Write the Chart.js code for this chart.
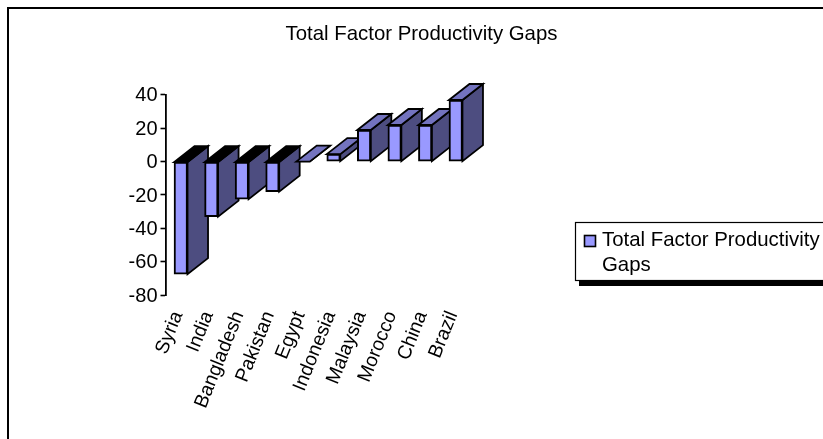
<!DOCTYPE html>
<html lang="en">
<head>
  <meta charset="UTF-8" />
  <title>Total Factor Productivity Gaps</title>
  <script src="https://cdn.jsdelivr.net/npm/chart.js"></script>
  <style>
    html, body { margin: 0; padding: 0; background: #fff; overflow: hidden; }
    .wrap { position: relative; width: 823px; height: 439px; }
    canvas { display: block; }
  </style>
</head>
<body>
  <div class="wrap"><canvas id="gapChart" width="823" height="439"></canvas></div>

  <script>
    const chartTitle = 'Total Factor Productivity Gaps';
    const countries = ['Syria', 'India', 'Bangladesh', 'Pakistan', 'Egypt', 'Indonesia', 'Malaysia', 'Morocco', 'China', 'Brazil'];
    const gaps = [-67.5, -33, -22.5, -18, 0, 4.5, 19, 22, 22, 37];
    const legendLines = ['Total Factor Productivity', 'Gaps'];

    const frontColor = '#9999ff';
    const sideColor = '#4d4d80';
    const topColor = '#7373bf';
    const depthX = 20.5;
    const depthY = 16;
    const fontName = '"Liberation Sans", Arial, sans-serif';

    function face(ctx, pts, fill) {
      ctx.beginPath();
      ctx.moveTo(pts[0][0], pts[0][1]);
      pts.slice(1).forEach(p => ctx.lineTo(p[0], p[1]));
      ctx.closePath();
      ctx.fillStyle = fill;
      ctx.fill();
      ctx.stroke();
    }

    // Extruded sides behind each bar, taken from the bar element geometry
    const depthFaces = {
      id: 'depthFaces',
      beforeDatasetsDraw(chart) {
        const ctx = chart.ctx;
        const bars = chart.getDatasetMeta(0).data;
        ctx.save();
        ctx.strokeStyle = '#000';
        ctx.lineWidth = 1.8;
        bars.forEach((bar, i) => {
          const left = bar.x - bar.width / 2;
          const right = bar.x + bar.width / 2;
          const top = Math.min(bar.y, bar.base);
          const bottom = Math.max(bar.y, bar.base);
          face(ctx, [[right, top], [right + depthX, top - depthY], [right + depthX, bottom - depthY], [right, bottom]], sideColor);
          // negative bars show the dark inside of the top
          face(ctx, [[left, top], [left + depthX, top - depthY], [right + depthX, top - depthY], [right, top]], gaps[i] < 0 ? '#000' : topColor);
        });
        ctx.restore();
      }
    };

    // Outer frame plus the shadowed legend box
    const frameAndLegend = {
      id: 'frameAndLegend',
      beforeDraw(chart) {
        const ctx = chart.ctx;
        ctx.save();
        ctx.strokeStyle = '#000';
        ctx.lineWidth = 2;
        ctx.strokeRect(8, 8, 900, 600);
        ctx.restore();
      },
      afterDraw(chart) {
        const ctx = chart.ctx;
        ctx.save();
        ctx.fillStyle = '#000';
        ctx.fillRect(579, 226, 300, 60);
        ctx.fillStyle = '#fff';
        ctx.strokeStyle = '#000';
        ctx.lineWidth = 1.2;
        ctx.fillRect(575.5, 222.5, 300, 58);
        ctx.strokeRect(575.5, 222.5, 300, 58);
        ctx.fillStyle = frontColor;
        ctx.lineWidth = 1.6;
        ctx.fillRect(584.5, 235.5, 11, 11);
        ctx.strokeRect(584.5, 235.5, 11, 11);
        ctx.fillStyle = '#000';
        ctx.font = '20.4px ' + fontName;
        ctx.textBaseline = 'alphabetic';
        ctx.textAlign = 'left';
        ctx.fillText(legendLines[0], 602, 246);
        ctx.fillText(legendLines[1], 602, 271);
        ctx.restore();
      }
    };

    new Chart(document.getElementById('gapChart'), {
      type: 'bar',
      data: {
        labels: countries,
        datasets: [{
          label: chartTitle,
          data: gaps,
          backgroundColor: frontColor,
          borderColor: '#000',
          borderWidth: 2,
          borderSkipped: false,
          barThickness: 13.5
        }]
      },
      options: {
        responsive: false,
        animation: false,
        layout: { padding: { left: 20, right: 0, top: 0, bottom: 0 } },
        plugins: {
          legend: { display: false },
          tooltip: { enabled: false },
          title: {
            display: true,
            text: chartTitle,
            color: '#000',
            font: { family: fontName, size: 20.4, weight: 'normal', lineHeight: 1.2 },
            padding: { top: 22, bottom: 48.5 }
          }
        },
        scales: {
          x: {
            position: 'bottom',
            grid: { display: false, drawTicks: false },
            border: { display: false },
            ticks: {
              color: '#000',
              autoSkip: false,
              font: { family: fontName, size: 19.4 },
              minRotation: 68,
              maxRotation: 68,
              padding: 13,
              labelOffset: -3
            },
            afterFit(scale) {
              scale.height = 144;
              scale.paddingLeft = 0;
              scale.paddingRight = 0;
            }
          },
          y: {
            min: -80,
            max: 40,
            grid: { display: true, drawOnChartArea: false, drawTicks: true, tickLength: 5, tickWidth: 1.6, tickColor: '#000' },
            border: { display: true, color: '#000', width: 1.8 },
            ticks: {
              color: '#000',
              stepSize: 20,
              padding: 3,
              labelOffset: 1,
              font: { family: fontName, size: 20 }
            },
            afterFit(scale) {
              scale.width = 145.5;
            }
          },
          // empty column that keeps the plot left of the legend box
          spacer: {
            axis: 'y',
            position: 'right',
            grid: { display: false, drawTicks: false },
            border: { display: false },
            ticks: { display: false },
            afterFit(scale) {
              scale.width = 352;
            }
          }
        }
      },
      plugins: [frameAndLegend, depthFaces]
    });
  </script>
</body>
</html>
